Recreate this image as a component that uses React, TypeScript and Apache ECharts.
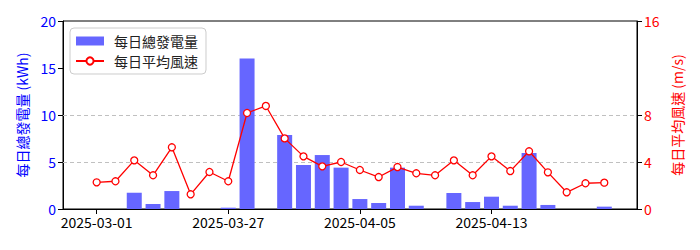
import React, { useEffect, useRef } from "react";
import * as echarts from "echarts";

const dates = [
  "2025-03-01", "2025-03-05", "2025-03-09", "2025-03-13", "2025-03-17", "2025-03-21", "2025-03-24",
  "2025-03-27", "2025-03-28", "2025-03-29", "2025-03-31", "2025-04-01", "2025-04-02", "2025-04-04",
  "2025-04-05", "2025-04-06", "2025-04-07", "2025-04-08", "2025-04-09", "2025-04-10", "2025-04-11",
  "2025-04-13", "2025-04-14", "2025-04-15", "2025-04-16", "2025-04-17", "2025-04-18", "2025-04-19",
];
const energy = [
  0, 0, 1.73, 0.53, 1.91, 0, 0,
  0.14, 16.0, 0, 7.87, 4.68, 5.74, 4.4,
  1.06, 0.64, 4.4, 0.35, 0, 1.7, 0.74,
  1.31, 0.35, 5.96, 0.43, 0, 0, 0.25,
];
const wind = [
  2.27, 2.36, 4.14, 2.87, 5.25, 1.25, 3.15,
  2.36, 8.17, 8.77, 6.01, 4.48, 3.63, 4.0,
  3.32, 2.72, 3.57, 3.04, 2.87, 4.14, 2.87,
  4.48, 3.23, 4.91, 3.12, 1.42, 2.19, 2.24,
];
const xTickIdx = [0, 7, 14, 21];
const leftTicks = [0, 5, 10, 15, 20];
const rightTicks = [0, 4, 8, 16];
const gridValues = [5, 10];

const FONT = "'Noto Sans CJK TC', 'Noto Sans', sans-serif";

export default function App() {
  const ref = useRef<HTMLDivElement>(null);
  useEffect(() => {
    if (!ref.current) return;
    document.body.style.margin = "0";
    const chart = echarts.init(ref.current, null, { renderer: "svg" });
    chart.setOption({
      animation: false,
      textStyle: { fontFamily: FONT },
      grid: {
        left: 63, right: 63, top: 21, bottom: 41,
        show: true, borderColor: "#000", borderWidth: 1, backgroundColor: "transparent",
      },
      legend: {
        orient: "vertical",
        left: 70, top: 28,
        padding: [6, 8, 6, 5],
        itemGap: 6,
        itemWidth: 28, itemHeight: 9,
        borderColor: "#cccccc", borderWidth: 1, borderRadius: 4,
        backgroundColor: "rgba(255,255,255,0.8)",
        textStyle: { fontSize: 14, color: "#222", fontFamily: FONT, padding: [0, 0, 0, 5] },
        data: [
          { name: "每日總發電量", icon: "rect" },
          { name: "每日平均風速" },
        ],
      },
      xAxis: {
        type: "value",
        min: -1.79, max: 28.74,
        interval: 7,
        axisLine: { show: true, onZero: false, lineStyle: { color: "#000" } },
        axisTick: { show: true, length: 5, customValues: xTickIdx, lineStyle: { color: "#000" } },
        axisLabel: {
          customValues: xTickIdx,
          color: "#000", fontSize: 14, margin: 6,
          formatter: (v: number) => dates[Math.round(v)] ?? "",
        },
        splitLine: { show: false },
      },
      yAxis: [
        {
          type: "value", min: 0, max: 20, interval: 5,
          position: "left",
          name: "每日總發電量 (kWh)",
          nameLocation: "middle", nameRotate: 90, nameGap: 34,
          nameTextStyle: { color: "#0000ff", fontSize: 14, fontFamily: FONT },
          axisLine: { show: true, onZero: false, lineStyle: { color: "#000" } },
          axisTick: { show: true, length: 5, lineStyle: { color: "#000" } },
          axisLabel: { color: "#0000ff", fontSize: 14, margin: 7, customValues: leftTicks },
          splitLine: { show: false },
        },
        {
          type: "value", min: 0, max: 16, interval: 4,
          position: "right",
          name: "每日平均風速 (m/s)",
          nameLocation: "middle", nameRotate: 90, nameGap: 28,
          nameTextStyle: { color: "#ff0000", fontSize: 14, fontFamily: FONT },
          axisLine: { show: true, onZero: false, lineStyle: { color: "#000" } },
          axisTick: { show: true, length: 5, customValues: rightTicks, lineStyle: { color: "#000" } },
          axisLabel: { color: "#ff0000", fontSize: 14, margin: 7, customValues: rightTicks },
          splitLine: { show: false },
        },
      ],
      series: [
        {
          name: "每日總發電量",
          type: "bar",
          yAxisIndex: 0,
          barWidth: 15,
          itemStyle: { color: "#6666ff" },
          data: energy.map((v, i) => [i, v]),
          markLine: {
            z: 1,
            silent: true,
            symbol: "none",
            label: { show: false },
            lineStyle: { color: "#c0c0c0", type: [4, 3], width: 1 },
            data: gridValues.map((v) => ({ yAxis: v })),
          },
        },
        {
          name: "每日平均風速",
          type: "line",
          yAxisIndex: 1,
          symbol: "circle",
          symbolSize: 7,
          lineStyle: { color: "#ff0000", width: 1.3 },
          itemStyle: { color: "#ffffff", borderColor: "#ff0000", borderWidth: 1.3 },
          data: wind.map((v, i) => [i, v]),
          z: 3,
        },
      ],
    });
    return () => chart.dispose();
  }, []);
  return <div ref={ref} style={{ width: 700, height: 250 }} />;
}
